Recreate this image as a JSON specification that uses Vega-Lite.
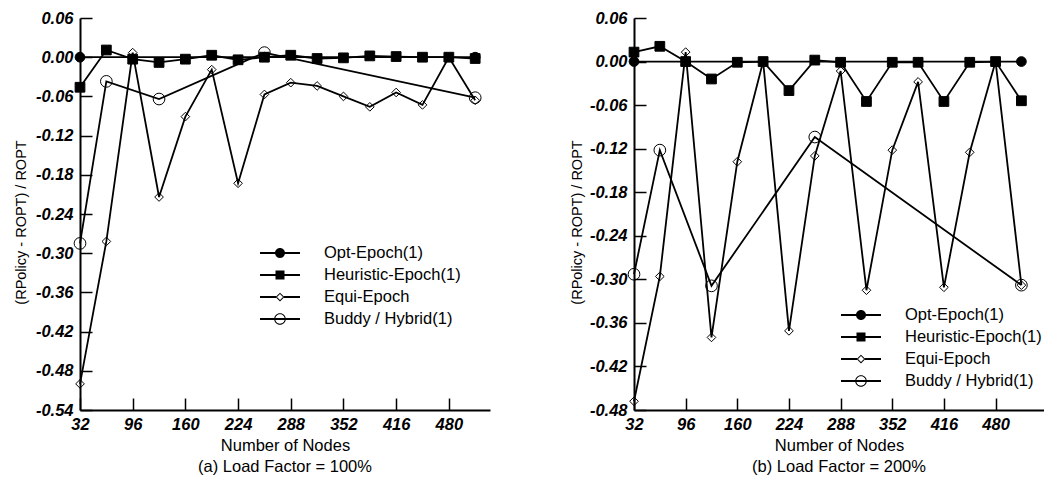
{
  "$schema": "https://vega.github.io/schema/vega-lite/v6.json",
  "padding": {"left": 13, "top": 10, "right": 0, "bottom": 0},
  "config": {
    "view": {"stroke": null},
    "font": "Liberation Sans",
    "axis": {
      "grid": false,
      "domainColor": "black",
      "domainWidth": 2,
      "tickColor": "black",
      "tickWidth": 1.5,
      "tickSize": -12,
      "labelFont": "Liberation Sans",
      "labelFontSize": 16.5,
      "labelFontWeight": "bold",
      "labelFontStyle": "italic",
      "labelColor": "black",
      "labelFlush": false,
      "labelOverlap": false,
      "titleFont": "Liberation Sans",
      "titleFontSize": 16.5,
      "titleFontWeight": "normal",
      "titleColor": "black"
    },
    "legend": {
      "orient": "none",
      "title": null,
      "symbolSize": 1600,
      "symbolStrokeWidth": 0,
      "symbolFillColor": "black",
      "symbolOpacity": 1,
      "labelFontSize": 16.5,
      "labelFont": "Liberation Sans",
      "labelColor": "black",
      "labelOffset": 24,
      "clipHeight": 21.3,
      "rowPadding": 0,
      "padding": 0,
      "symbolOffset": 0,
      "labelLimit": 300
    }
  },
  "data": {
    "values": [
      {"panel": "a", "series": "Opt-Epoch(1)", "nodes": 32, "value": 0},
      {"panel": "a", "series": "Opt-Epoch(1)", "nodes": 512, "value": 0},
      {"panel": "a", "series": "Heuristic-Epoch(1)", "nodes": 32, "value": -0.046},
      {"panel": "a", "series": "Heuristic-Epoch(1)", "nodes": 64, "value": 0.011},
      {"panel": "a", "series": "Heuristic-Epoch(1)", "nodes": 96, "value": -0.003},
      {"panel": "a", "series": "Heuristic-Epoch(1)", "nodes": 128, "value": -0.008},
      {"panel": "a", "series": "Heuristic-Epoch(1)", "nodes": 160, "value": -0.003},
      {"panel": "a", "series": "Heuristic-Epoch(1)", "nodes": 192, "value": 0.003},
      {"panel": "a", "series": "Heuristic-Epoch(1)", "nodes": 224, "value": -0.004},
      {"panel": "a", "series": "Heuristic-Epoch(1)", "nodes": 256, "value": 0.0},
      {"panel": "a", "series": "Heuristic-Epoch(1)", "nodes": 288, "value": 0.003},
      {"panel": "a", "series": "Heuristic-Epoch(1)", "nodes": 320, "value": -0.002},
      {"panel": "a", "series": "Heuristic-Epoch(1)", "nodes": 352, "value": -0.001},
      {"panel": "a", "series": "Heuristic-Epoch(1)", "nodes": 384, "value": 0.002},
      {"panel": "a", "series": "Heuristic-Epoch(1)", "nodes": 416, "value": 0.001},
      {"panel": "a", "series": "Heuristic-Epoch(1)", "nodes": 448, "value": 0.0},
      {"panel": "a", "series": "Heuristic-Epoch(1)", "nodes": 480, "value": 0.0},
      {"panel": "a", "series": "Heuristic-Epoch(1)", "nodes": 512, "value": -0.002},
      {"panel": "a", "series": "Equi-Epoch", "nodes": 32, "value": -0.5},
      {"panel": "a", "series": "Equi-Epoch", "nodes": 64, "value": -0.282},
      {"panel": "a", "series": "Equi-Epoch", "nodes": 96, "value": 0.007},
      {"panel": "a", "series": "Equi-Epoch", "nodes": 128, "value": -0.214},
      {"panel": "a", "series": "Equi-Epoch", "nodes": 160, "value": -0.091},
      {"panel": "a", "series": "Equi-Epoch", "nodes": 192, "value": -0.019},
      {"panel": "a", "series": "Equi-Epoch", "nodes": 224, "value": -0.193},
      {"panel": "a", "series": "Equi-Epoch", "nodes": 256, "value": -0.057},
      {"panel": "a", "series": "Equi-Epoch", "nodes": 288, "value": -0.039},
      {"panel": "a", "series": "Equi-Epoch", "nodes": 320, "value": -0.044},
      {"panel": "a", "series": "Equi-Epoch", "nodes": 352, "value": -0.06},
      {"panel": "a", "series": "Equi-Epoch", "nodes": 384, "value": -0.076},
      {"panel": "a", "series": "Equi-Epoch", "nodes": 416, "value": -0.054},
      {"panel": "a", "series": "Equi-Epoch", "nodes": 448, "value": -0.073},
      {"panel": "a", "series": "Equi-Epoch", "nodes": 480, "value": 0.0},
      {"panel": "a", "series": "Equi-Epoch", "nodes": 512, "value": -0.066},
      {"panel": "a", "series": "Buddy / Hybrid(1)", "nodes": 32, "value": -0.285},
      {"panel": "a", "series": "Buddy / Hybrid(1)", "nodes": 64, "value": -0.037},
      {"panel": "a", "series": "Buddy / Hybrid(1)", "nodes": 128, "value": -0.064},
      {"panel": "a", "series": "Buddy / Hybrid(1)", "nodes": 256, "value": 0.007},
      {"panel": "a", "series": "Buddy / Hybrid(1)", "nodes": 512, "value": -0.062},
      {"panel": "b", "series": "Opt-Epoch(1)", "nodes": 32, "value": 0},
      {"panel": "b", "series": "Opt-Epoch(1)", "nodes": 512, "value": 0},
      {"panel": "b", "series": "Heuristic-Epoch(1)", "nodes": 32, "value": 0.013},
      {"panel": "b", "series": "Heuristic-Epoch(1)", "nodes": 64, "value": 0.021},
      {"panel": "b", "series": "Heuristic-Epoch(1)", "nodes": 96, "value": 0.0},
      {"panel": "b", "series": "Heuristic-Epoch(1)", "nodes": 128, "value": -0.024},
      {"panel": "b", "series": "Heuristic-Epoch(1)", "nodes": 160, "value": -0.001},
      {"panel": "b", "series": "Heuristic-Epoch(1)", "nodes": 192, "value": 0.0},
      {"panel": "b", "series": "Heuristic-Epoch(1)", "nodes": 224, "value": -0.04},
      {"panel": "b", "series": "Heuristic-Epoch(1)", "nodes": 256, "value": 0.002},
      {"panel": "b", "series": "Heuristic-Epoch(1)", "nodes": 288, "value": -0.001},
      {"panel": "b", "series": "Heuristic-Epoch(1)", "nodes": 320, "value": -0.055},
      {"panel": "b", "series": "Heuristic-Epoch(1)", "nodes": 352, "value": -0.001},
      {"panel": "b", "series": "Heuristic-Epoch(1)", "nodes": 384, "value": -0.001},
      {"panel": "b", "series": "Heuristic-Epoch(1)", "nodes": 416, "value": -0.055},
      {"panel": "b", "series": "Heuristic-Epoch(1)", "nodes": 448, "value": -0.001},
      {"panel": "b", "series": "Heuristic-Epoch(1)", "nodes": 480, "value": 0.0},
      {"panel": "b", "series": "Heuristic-Epoch(1)", "nodes": 512, "value": -0.054},
      {"panel": "b", "series": "Equi-Epoch", "nodes": 32, "value": -0.468},
      {"panel": "b", "series": "Equi-Epoch", "nodes": 64, "value": -0.296},
      {"panel": "b", "series": "Equi-Epoch", "nodes": 96, "value": 0.013},
      {"panel": "b", "series": "Equi-Epoch", "nodes": 128, "value": -0.38},
      {"panel": "b", "series": "Equi-Epoch", "nodes": 160, "value": -0.138},
      {"panel": "b", "series": "Equi-Epoch", "nodes": 192, "value": 0.0},
      {"panel": "b", "series": "Equi-Epoch", "nodes": 224, "value": -0.371},
      {"panel": "b", "series": "Equi-Epoch", "nodes": 256, "value": -0.13},
      {"panel": "b", "series": "Equi-Epoch", "nodes": 288, "value": -0.013},
      {"panel": "b", "series": "Equi-Epoch", "nodes": 320, "value": -0.315},
      {"panel": "b", "series": "Equi-Epoch", "nodes": 352, "value": -0.122},
      {"panel": "b", "series": "Equi-Epoch", "nodes": 384, "value": -0.028},
      {"panel": "b", "series": "Equi-Epoch", "nodes": 416, "value": -0.311},
      {"panel": "b", "series": "Equi-Epoch", "nodes": 448, "value": -0.125},
      {"panel": "b", "series": "Equi-Epoch", "nodes": 480, "value": 0.0},
      {"panel": "b", "series": "Equi-Epoch", "nodes": 512, "value": -0.308},
      {"panel": "b", "series": "Buddy / Hybrid(1)", "nodes": 32, "value": -0.293},
      {"panel": "b", "series": "Buddy / Hybrid(1)", "nodes": 64, "value": -0.122},
      {"panel": "b", "series": "Buddy / Hybrid(1)", "nodes": 128, "value": -0.309},
      {"panel": "b", "series": "Buddy / Hybrid(1)", "nodes": 256, "value": -0.104},
      {"panel": "b", "series": "Buddy / Hybrid(1)", "nodes": 512, "value": -0.308}
    ]
  },
  "spacing": 144,
  "bounds": "flush",
  "resolve": {"scale": {"x": "independent", "y": "independent", "shape": "independent"}, "legend": {"shape": "independent"}},
  "hconcat": [
    {
      "width": 410,
      "height": 392,
      "title": {"text": "(a) Load Factor = 100%", "orient": "bottom", "fontSize": 16.5, "fontWeight": "normal", "font": "Liberation Sans", "color": "black", "offset": 5},
      "transform": [{"filter": "datum.panel === 'a'"}],
      "encoding": {
        "x": {"field": "nodes", "type": "quantitative", "scale": {"domain": [32, 530], "nice": false, "zero": false},
          "axis": {"values": [32, 96, 160, 224, 288, 352, 416, 480], "format": "d", "labelPadding": 18, "title": "Number of Nodes", "titleY": 35, "titleBaseline": "middle"}},
        "y": {"field": "value", "type": "quantitative", "scale": {"domain": [-0.54, 0.06], "nice": false, "zero": false},
          "axis": {"values": [0.06, 0, -0.06, -0.12, -0.18, -0.24, -0.3, -0.36, -0.42, -0.48, -0.54], "labelExpr": "replace(format(datum.value, '.2f'), '\u2212', '-')", "labelPadding": 19, "title": "(RPolicy - ROPT) / ROPT", "titleFontSize": 14.5, "titleX": -59, "titleY": 204, "titleBaseline": "middle"}}
      },
      "layer": [
        {"mark": {"type": "line", "color": "black", "strokeWidth": 1.8}, "encoding": {"detail": {"field": "series"}}},
        {"mark": {"type": "point", "filled": true, "stroke": "black", "strokeWidth": 1, "opacity": 1},
          "encoding": {
            "shape": {"condition": [{"test": "datum.series === 'Heuristic-Epoch(1)'", "value": "square"}, {"test": "datum.series === 'Equi-Epoch'", "value": "diamond"}], "value": "circle"},
            "fill": {"condition": {"test": "datum.series === 'Opt-Epoch(1)' || datum.series === 'Heuristic-Epoch(1)'", "value": "black"}, "value": "transparent"},
            "size": {"condition": [{"test": "datum.series === 'Buddy / Hybrid(1)'", "value": 137}, {"test": "datum.series === 'Equi-Epoch'", "value": 75}], "value": 95}
          }},
        {"transform": [{"filter": "datum.panel === 'none'"}],
          "mark": {"type": "point", "filled": true, "fill": "black", "opacity": 1},
          "encoding": {
            "shape": {"field": "series", "type": "nominal",
              "scale": {"domain": ["Opt-Epoch(1)", "Heuristic-Epoch(1)", "Equi-Epoch", "Buddy / Hybrid(1)"],
                "range": [
                  "M-1,-0.05H1V0.05H-1ZM0.25,0C0.25,0.138,0.138,0.25,0,0.25C-0.138,0.25,-0.25,0.138,-0.25,0C-0.25,-0.138,-0.138,-0.25,0,-0.25C0.138,-0.25,0.25,-0.138,0.25,0Z",
                  "M-1,-0.05H1V0.05H-1ZM-0.225,-0.225H0.225V0.225H-0.225Z",
                  "M-1,-0.05H-0.2V0.05H-1ZM0.2,-0.05H1V0.05H0.2ZM-0.22,0L0,-0.22L0.22,0L0,0.22ZM-0.15,0L0,0.15L0.15,0L0,-0.15Z",
                  "M-1,-0.05H1V0.05H-1ZM0.29,0C0.29,0.16,0.16,0.29,0,0.29C-0.16,0.29,-0.29,0.16,-0.29,0C-0.29,-0.16,-0.16,-0.29,0,-0.29C0.16,-0.29,0.29,-0.16,0.29,0ZM0.235,0C0.235,-0.13,0.13,-0.235,0,-0.235C-0.13,-0.235,-0.235,-0.13,-0.235,0C-0.235,0.13,-0.13,0.235,0,0.235C0.13,0.235,0.235,0.13,0.235,0Z"
                ]},
              "legend": {"legendX": 180, "legendY": 224.4}}
          }}
      ]
    },
    {
      "width": 410,
      "height": 392,
      "title": {"text": "(b) Load Factor = 200%", "orient": "bottom", "fontSize": 16.5, "fontWeight": "normal", "font": "Liberation Sans", "color": "black", "offset": 5},
      "transform": [{"filter": "datum.panel === 'b'"}],
      "encoding": {
        "x": {"field": "nodes", "type": "quantitative", "scale": {"domain": [32, 540], "nice": false, "zero": false},
          "axis": {"values": [32, 96, 160, 224, 288, 352, 416, 480], "format": "d", "labelPadding": 18, "title": "Number of Nodes", "titleY": 35, "titleBaseline": "middle"}},
        "y": {"field": "value", "type": "quantitative", "scale": {"domain": [-0.48, 0.06], "nice": false, "zero": false},
          "axis": {"values": [0.06, 0, -0.06, -0.12, -0.18, -0.24, -0.3, -0.36, -0.42, -0.48], "labelExpr": "replace(format(datum.value, '.2f'), '\u2212', '-')", "labelPadding": 19, "title": "(RPolicy - ROPT) / ROPT", "titleFontSize": 14.5, "titleX": -57, "titleY": 204, "titleBaseline": "middle"}}
      },
      "layer": [
        {"mark": {"type": "line", "color": "black", "strokeWidth": 1.8}, "encoding": {"detail": {"field": "series"}}},
        {"mark": {"type": "point", "filled": true, "stroke": "black", "strokeWidth": 1, "opacity": 1},
          "encoding": {
            "shape": {"condition": [{"test": "datum.series === 'Heuristic-Epoch(1)'", "value": "square"}, {"test": "datum.series === 'Equi-Epoch'", "value": "diamond"}], "value": "circle"},
            "fill": {"condition": {"test": "datum.series === 'Opt-Epoch(1)' || datum.series === 'Heuristic-Epoch(1)'", "value": "black"}, "value": "transparent"},
            "size": {"condition": [{"test": "datum.series === 'Buddy / Hybrid(1)'", "value": 137}, {"test": "datum.series === 'Equi-Epoch'", "value": 75}], "value": 95}
          }},
        {"transform": [{"filter": "datum.panel === 'none'"}],
          "mark": {"type": "point", "filled": true, "fill": "black", "opacity": 1},
          "encoding": {
            "shape": {"field": "series", "type": "nominal",
              "scale": {"domain": ["Opt-Epoch(1)", "Heuristic-Epoch(1)", "Equi-Epoch", "Buddy / Hybrid(1)"],
                "range": [
                  "M-1,-0.05H1V0.05H-1ZM0.25,0C0.25,0.138,0.138,0.25,0,0.25C-0.138,0.25,-0.25,0.138,-0.25,0C-0.25,-0.138,-0.138,-0.25,0,-0.25C0.138,-0.25,0.25,-0.138,0.25,0Z",
                  "M-1,-0.05H1V0.05H-1ZM-0.225,-0.225H0.225V0.225H-0.225Z",
                  "M-1,-0.05H-0.2V0.05H-1ZM0.2,-0.05H1V0.05H0.2ZM-0.22,0L0,-0.22L0.22,0L0,0.22ZM-0.15,0L0,0.15L0.15,0L0,-0.15Z",
                  "M-1,-0.05H1V0.05H-1ZM0.29,0C0.29,0.16,0.16,0.29,0,0.29C-0.16,0.29,-0.29,0.16,-0.29,0C-0.29,-0.16,-0.16,-0.29,0,-0.29C0.16,-0.29,0.29,-0.16,0.29,0ZM0.235,0C0.235,-0.13,0.13,-0.235,0,-0.235C-0.13,-0.235,-0.235,-0.13,-0.235,0C-0.235,0.13,-0.13,0.235,0,0.235C0.13,0.235,0.235,0.13,0.235,0Z"
                ]},
              "legend": {"legendX": 207, "legendY": 286.4}}
          }}
      ]
    }
  ]
}
